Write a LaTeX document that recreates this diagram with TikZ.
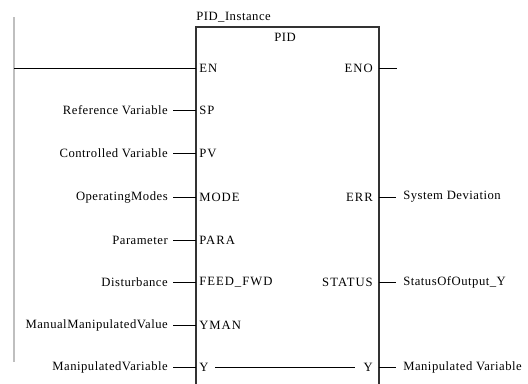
\documentclass[tikz,border=0pt]{standalone}
\usepackage{fontspec}
\setmainfont[LetterSpace=4]{Liberation Serif}
\newfontfamily\pinfont[LetterSpace=8]{Liberation Serif}
\begin{document}
\begin{tikzpicture}[x=0.75pt,y=-0.75pt,font=\fontsize{9.5}{11}\selectfont,
  lbl/.style={anchor=east,inner sep=0pt},
  pinl/.style={anchor=west,inner sep=0pt,font=\pinfont\fontsize{9.5}{11}\selectfont},
  pinr/.style={anchor=east,inner sep=0pt,font=\pinfont\fontsize{9.5}{11}\selectfont},
  olbl/.style={anchor=west,inner sep=0pt},
  wire/.style={line width=0.75pt,black},
  boxline/.style={line width=1.3pt,black!80},
  rail/.style={line width=1.2pt,black!25}]
\useasboundingbox (0,0) rectangle (528,383);
\clip (0,0) rectangle (528,383);
% rail
\coordinate (railtop) at (14,17);
\coordinate (railbot) at (14,362);
\draw[rail] (railtop) -- (railbot);
% box
\coordinate (btl) at (196,27);
\coordinate (btr) at (379,27);
\coordinate (bbl) at (196,390);
\coordinate (bbr) at (379,390);
\draw[boxline] (bbl) -- (btl) -- (btr) -- (bbr);
\node[anchor=south west,inner sep=0pt] (inst) at (196,22) {PID\_Instance};
\node[inner sep=0pt] (title) at (285,37) {PID};
% EN / ENO
\coordinate (railEN) at (14,68);
\coordinate (bEN) at (196,68);
\draw[wire] (railEN) -- (bEN);
\node[pinl] (pEN) at (199,68) {EN};
\node[pinr] (pENO) at (373,68) {ENO};
\coordinate (bENO) at (379,68);
\coordinate (fENO) at (397,68);
\draw[wire] (bENO) -- (fENO);
% inputs
\foreach \nm/\lab/\pn/\yy in {SP/Reference Variable/SP/110,
  PV/Controlled Variable/PV/153,
  MODE/OperatingModes/MODE/197,
  PARA/Parameter/PARA/240,
  FF/Disturbance/FEED\_FWD/282,
  YMAN/ManualManipulatedValue/YMAN/325,
  Y/ManipulatedVariable/Y/367}{
  \node[lbl] (l\nm) at (168,\yy) {\lab};
  \node[pinl] (p\nm) at (199,\yy) {\pn};
  \coordinate (b\nm) at (196,\yy);
  \draw[wire] ([xshift=4]l\nm.east) -- (b\nm);
}
% outputs
\foreach \nm/\lab/\pn/\yy in {ERR/System Deviation/ERR/197,
  STATUS/StatusOfOutput\_Y/STATUS/282,
  YO/Manipulated Variable/Y/367}{
  \node[pinr] (p\nm) at (373,\yy) {\pn};
  \node[olbl] (o\nm) at (403,\yy) {\lab};
  \coordinate (b\nm) at (379,\yy);
  \draw[wire] (b\nm) -- ([xshift=-5]o\nm.west);
}
% Y pass-through
\draw[wire] ([xshift=5]pY.east) -- ([xshift=-6]pYO.west);
\end{tikzpicture}
\end{document}
